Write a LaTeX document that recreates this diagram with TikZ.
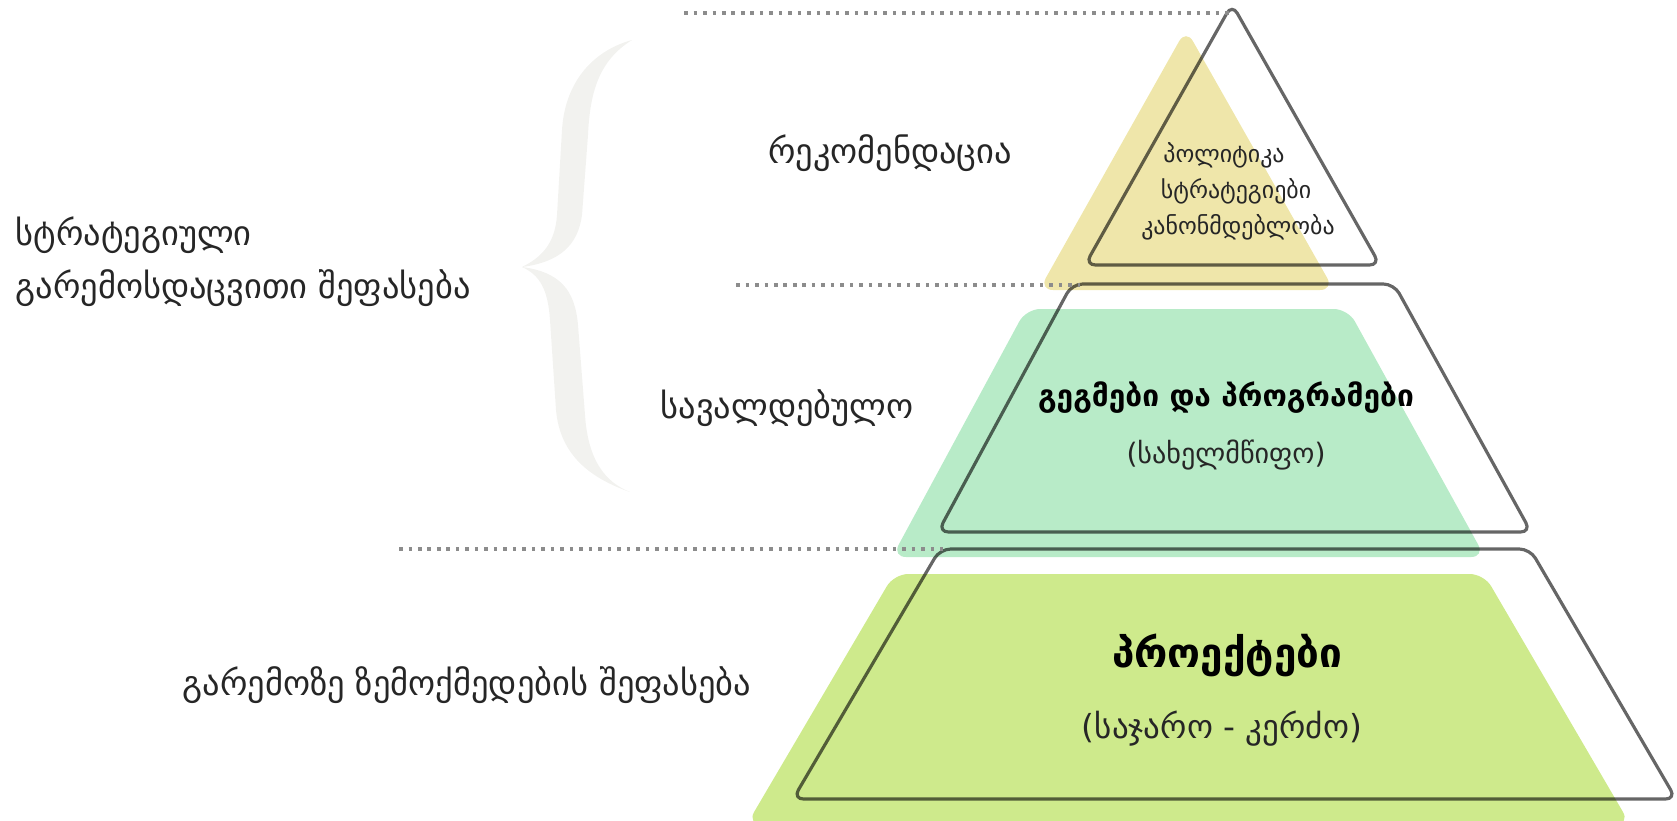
\documentclass[tikz,border=0pt]{standalone}
\usepackage{fontspec}
\setmainfont{DejaVu Sans}
\usetikzlibrary{calc}

\definecolor{paleyellow}{RGB}{239,230,170}
\definecolor{mint}{RGB}{184,235,200}
\definecolor{lime}{RGB}{206,234,140}
\definecolor{bracegray}{RGB}{242,242,239}

\begin{document}
\begin{tikzpicture}[x=0.01cm, y=-0.01cm,
    outline/.style={draw=black, draw opacity=0.6, line width=0.9pt, rounded corners=3pt},
    layer/.style={rounded corners=4pt},
    guide/.style={draw=black!45, line width=0.9pt, dash pattern=on 1pt off 1.7pt},
    lbl/.style={font=\fontsize{9.8}{15}\selectfont, text=black!85, inner sep=0pt},
    small/.style={font=\fontsize{6.8}{8}\selectfont, text=black!85, inner sep=0pt}]
    \useasboundingbox (0,0) rectangle (1677,820);

    % pyramid levels
    \def\toplevel{(1232,265) -- (1085,265) -- (1232,4) -- (1380,265) -- cycle}
    \def\midlevel{(1233,532) -- (938,532) -- (1072,284) -- (1394,284) -- (1531,532) -- cycle}
    \def\lowlevel{(1235,799) -- (793,799) -- (940,549) -- (1530,549) -- (1676,799) -- cycle}

    % shaded copies
    \begin{scope}[shift={(-46,25)}]
        \fill[paleyellow, layer] \toplevel;
        \fill[mint, layer] \midlevel;
        \fill[lime, layer] \lowlevel;
    \end{scope}

    \draw[outline] \toplevel;
    \draw[outline] \midlevel;
    \draw[outline] \lowlevel;

    \coordinate (apex) at (1230,13);
    \coordinate (midtop) at (1080,285);
    \coordinate (lowtop) at (943,549);

    \draw[guide] (684,13) -- (apex);
    \draw[guide] (736,285) -- (midtop);
    \draw[guide] (399,549) -- (lowtop);

    % brace
    \fill[bracegray] (632,40) .. controls (600,60) and (590,90) .. (588,135)
        -- (582,215) .. controls (578,245) and (560,262) .. (522,267)
        .. controls (560,272) and (575,290) .. (578,325)
        -- (585,415) .. controls (588,460) and (605,482) .. (630,492)
        .. controls (590,478) and (560,455) .. (556,410)
        -- (550,320) .. controls (548,290) and (540,275) .. (522,267)
        .. controls (540,258) and (555,245) .. (557,215)
        -- (562,130) .. controls (565,80) and (595,50) .. (632,40) -- cycle;

    \node[lbl, anchor=west, align=left] (strat) at (15,262) {სტრატეგიული\\გარემოსდაცვითი შეფასება};
    \node[lbl] (recom) at (890,153) {რეკომენდაცია};
    \node[lbl] (oblig) at (787,408) {სავალდებულო};
    \node[lbl] (impact) at (467,685) {გარემოზე ზემოქმედების შეფასება};

    \node[small] (policy) at (1224,155) {პოლიტიკა};
    \node[small] (strategies) at (1236,191) {სტრატეგიები};
    \node[small] (law) at (1238,227) {კანონმდებლობა};

    \node[lbl, font=\fontsize{8.5}{10}\selectfont\bfseries, text=black] (plans) at (1226,398) {გეგმები და პროგრამები};
    \node[lbl, font=\fontsize{8}{9}\selectfont] (state) at (1226,455) {(სახელმწიფო)};
    \node[lbl, font=\fontsize{11.5}{13}\selectfont\bfseries, text=black] (projects) at (1227,655) {პროექტები};
    \node[lbl, font=\fontsize{9.4}{11}\selectfont] (sectors) at (1222,729) {(საჯარო - კერძო)};
\end{tikzpicture}
\end{document}
